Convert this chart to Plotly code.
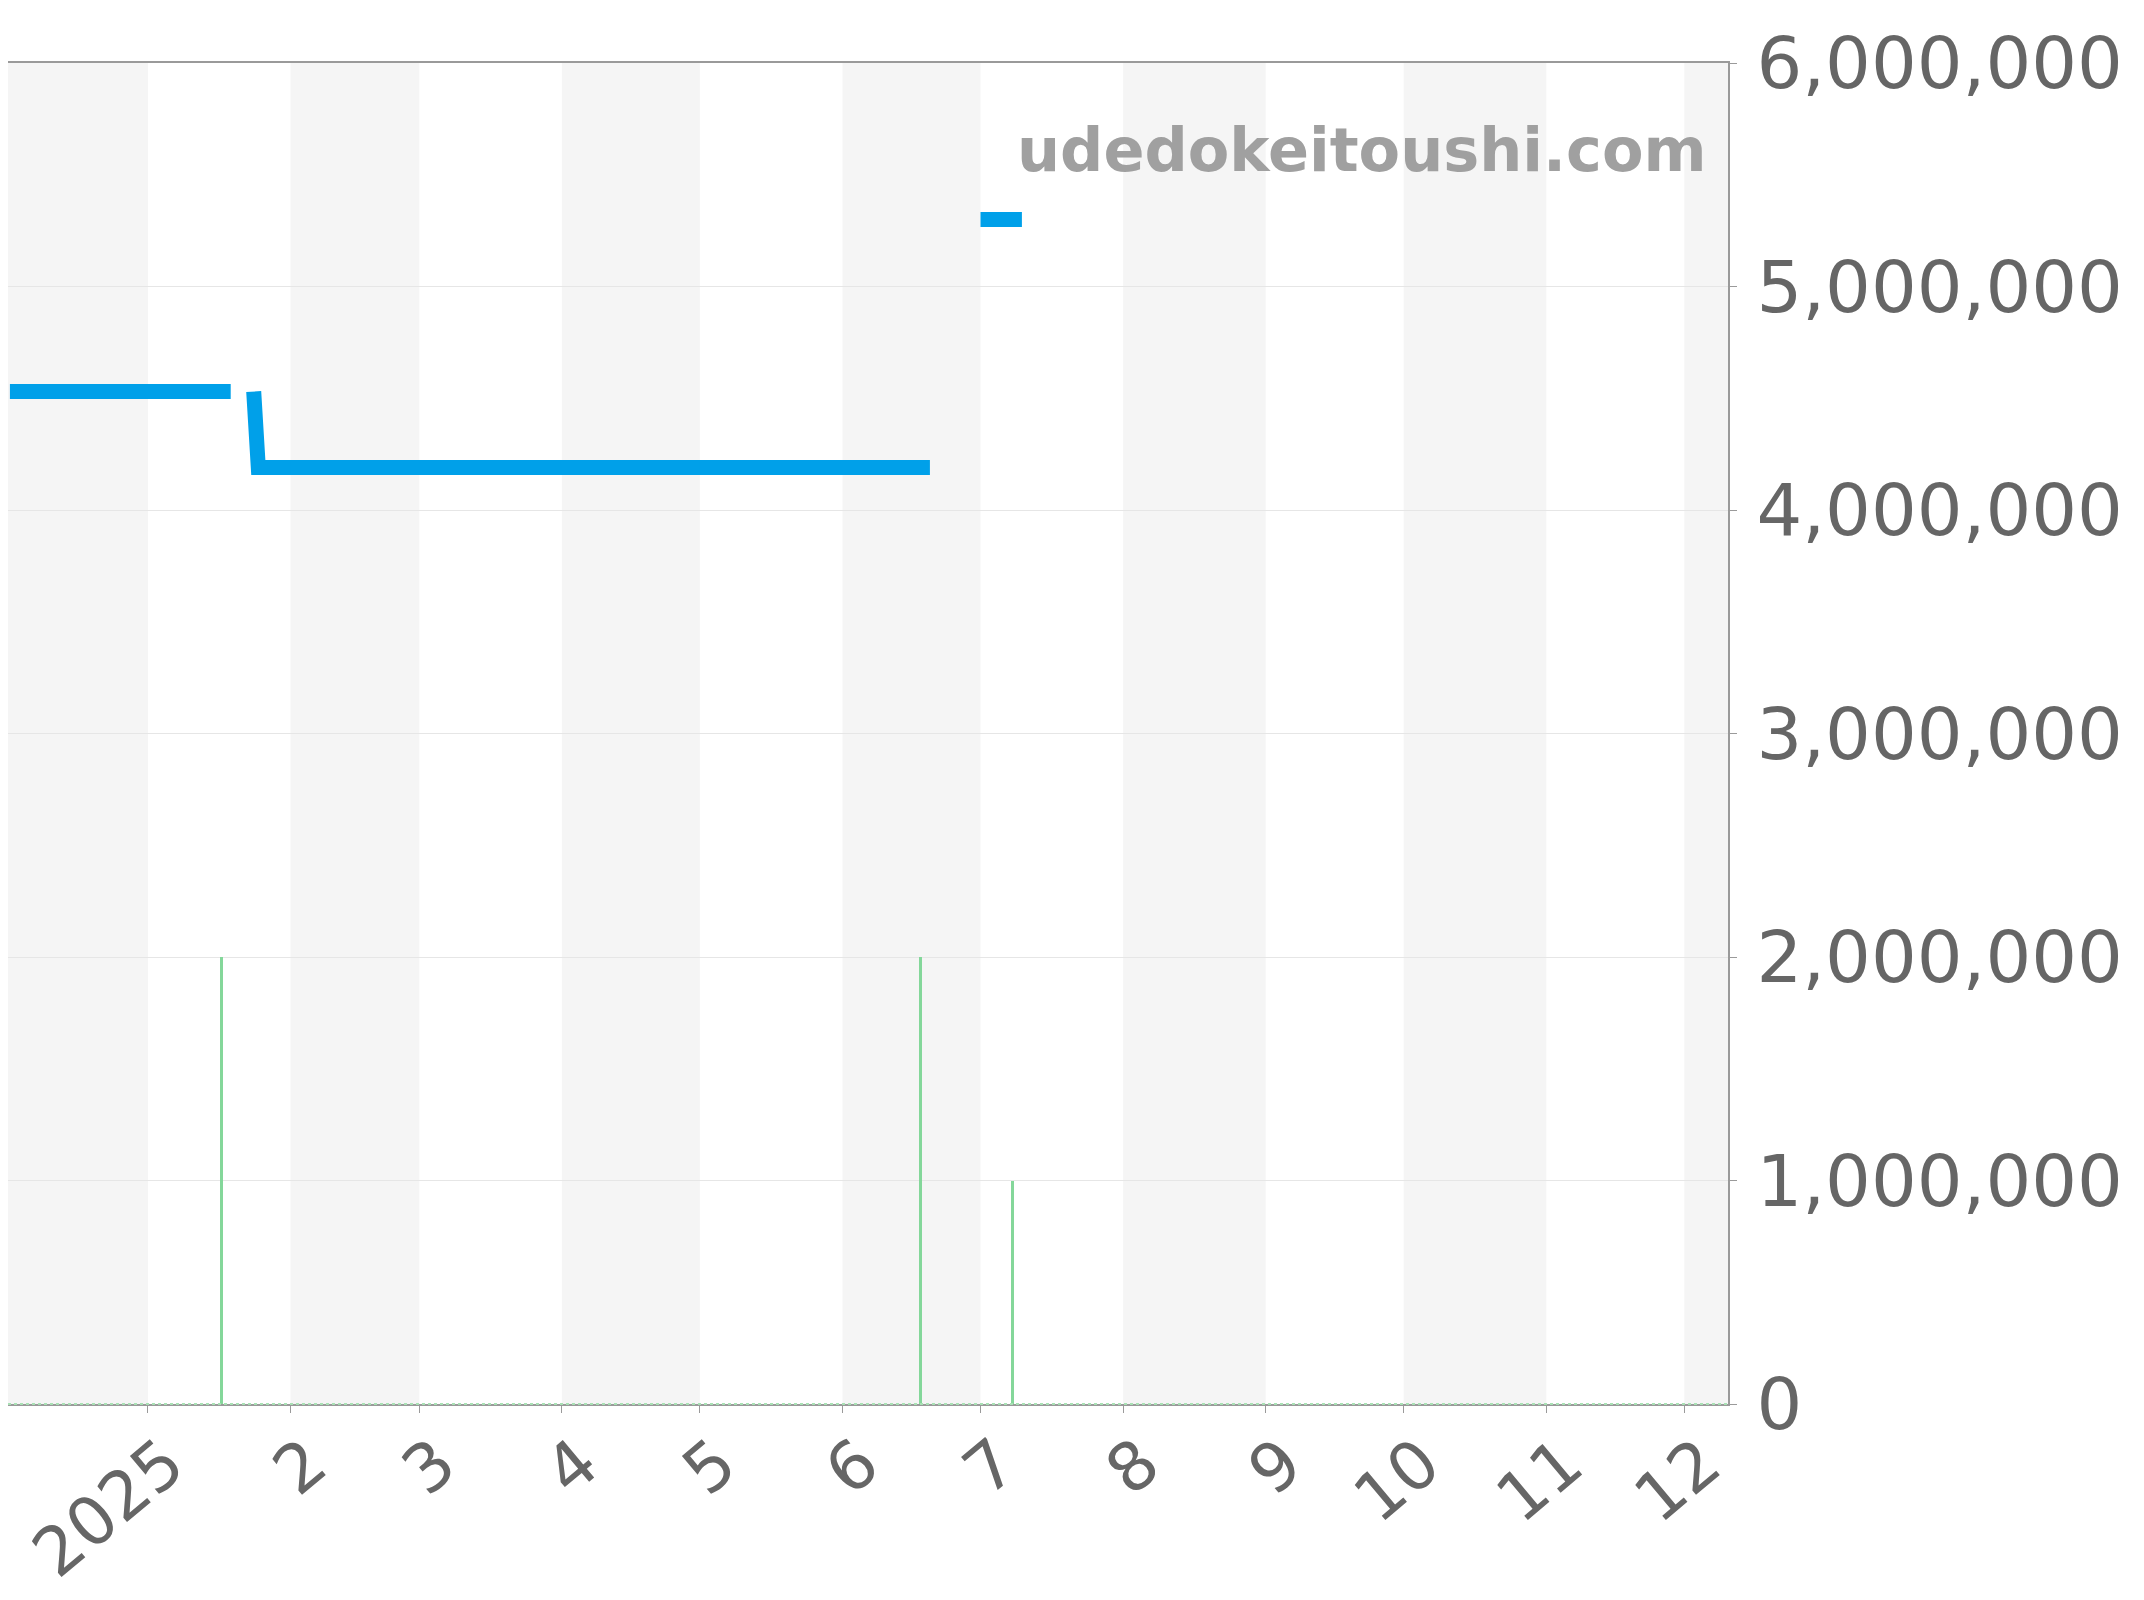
import plotly.graph_objects as go

# price line (None = no data, line breaks)
price_dates = ["2024-12-02", "2025-01-19", "2025-01-21", "2025-01-24", "2025-01-25",
               "2025-06-20", "2025-06-25", "2025-07-01", "2025-07-10"]
price_values = [4530000, 4530000, None, 4530000, 4190000,
                4190000, None, 5300000, 5300000]

# listing counts (green bars)
count_dates = ["2025-01-17", "2025-06-18", "2025-07-08"]
count_values = [2, 2, 1]

# month ticks
tick_dates = ["2025-01-01", "2025-02-01", "2025-03-01", "2025-04-01", "2025-05-01", "2025-06-01",
              "2025-07-01", "2025-08-01", "2025-09-01", "2025-10-01", "2025-11-01", "2025-12-01"]
tick_labels = ["2025", "2", "3", "4", "5", "6", "7", "8", "9", "10", "11", "12"]

# shaded months
band_starts = ["2024-12-01", "2025-02-01", "2025-04-01", "2025-06-01", "2025-08-01", "2025-10-01", "2025-12-01"]
band_ends = ["2025-01-01", "2025-03-01", "2025-05-01", "2025-07-01", "2025-09-01", "2025-11-01", "2026-01-01"]

y_ticks = [0, 1000000, 2000000, 3000000, 4000000, 5000000, 6000000]

font = "DejaVu Sans"
grey = "#666666"
axis_grey = "#9a9a9a"

fig = go.Figure()

fig.add_trace(go.Bar(
    x=count_dates, y=count_values, yaxis="y2",
    width=0.6 * 86400000,
    marker=dict(color="#84d79a", line=dict(width=0)),
    showlegend=False,
))

fig.add_trace(go.Scatter(
    x=price_dates, y=price_values, mode="lines",
    line=dict(color="#00a0e9", width=15),
    connectgaps=False, showlegend=False,
))

shapes = []
for s, e in zip(band_starts, band_ends):
    shapes.append(dict(type="rect", xref="x", yref="paper", x0=s, x1=e, y0=0, y1=1,
                       fillcolor="#f5f5f5", line=dict(width=0), layer="below"))
# green dotted base line
shapes.append(dict(type="line", xref="paper", yref="paper", x0=0, x1=1, y0=0, y1=0,
                   line=dict(color="#a8e0b4", width=2, dash="dot"), layer="above"))

fig.update_layout(
    width=2136, height=1592,
    margin=dict(l=0, r=416, t=55, b=196),
    paper_bgcolor="white", plot_bgcolor="rgba(0,0,0,0)",
    font=dict(family=font, color=grey),
    shapes=shapes,
    bargap=0,
    xaxis=dict(
        type="date",
        range=["2024-12-01 14:00", "2025-12-10 12:00"],
        tickvals=tick_dates, ticktext=tick_labels,
        tickangle=-40,
        tickfont=dict(size=67, color=grey, family=font),
        ticks="outside", ticklen=7, tickcolor=axis_grey,
        ticklabelshift=19, ticklabelstandoff=-15,
        ticklabeloverflow="allow",
        showline=True, linecolor=axis_grey, linewidth=2, mirror=True,
        showgrid=False, zeroline=False, automargin=False,
    ),
    yaxis=dict(
        side="right",
        range=[0, 6000000],
        tickvals=y_ticks, tickformat=",d",
        tickfont=dict(size=72, color=grey, family=font),
        ticks="outside", ticklen=7, tickcolor=axis_grey,
        ticklabelstandoff=5,
        ticklabeloverflow="allow",
        showline=True, linecolor=axis_grey, linewidth=2,
        showgrid=True, gridcolor="#e6e6e6", gridwidth=1,
        zeroline=False, automargin=False,
    ),
    yaxis2=dict(
        overlaying="y", range=[0, 6], visible=False, showgrid=False,
    ),
    annotations=[dict(
        text="udedokeitoushi.com", xref="paper", yref="paper",
        x=0.989, y=0.935, xanchor="right", yanchor="middle",
        showarrow=False,
        font=dict(family=font, size=60.5, color="#a0a0a0", weight="bold"),
    )],
)

fig.write_html("out.html")
